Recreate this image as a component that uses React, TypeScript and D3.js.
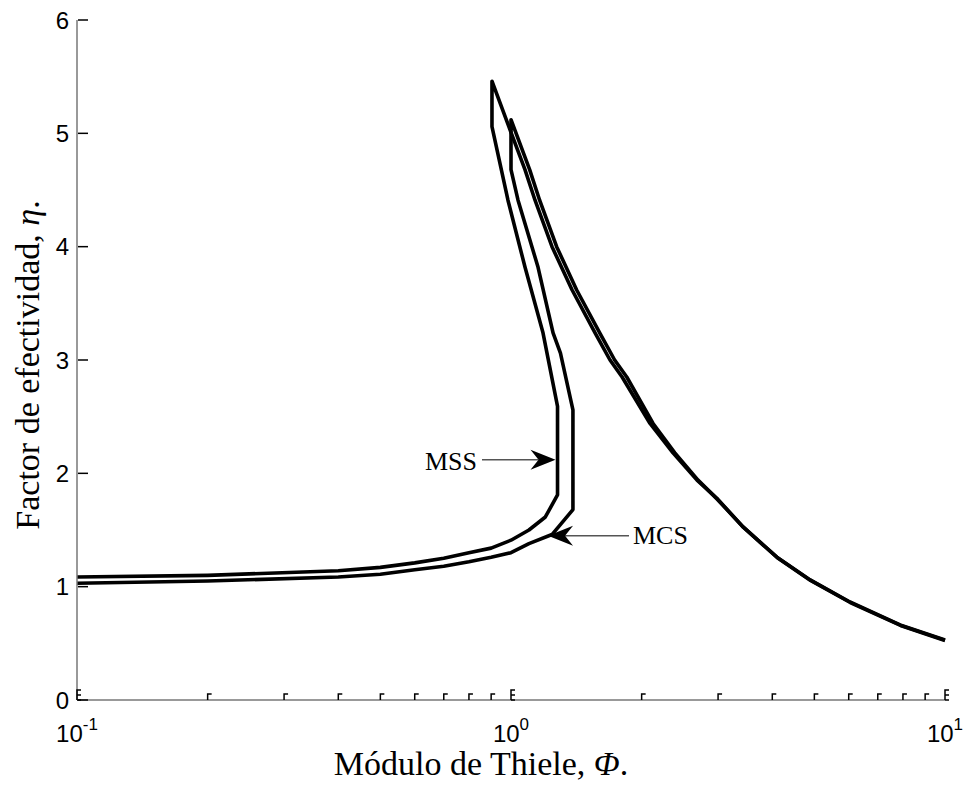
import { useEffect, useRef } from 'react';
import * as d3 from 'd3';

// Módulo de Thiele (Φ) vs factor de efectividad (η)
const mssPhi = [0.1, 0.2, 0.4, 0.5, 0.6, 0.7, 0.8, 0.9, 1.0, 1.1, 1.2, 1.28, 1.28, 1.185, 1.077, 0.984, 0.904, 0.904, 0.995, 1.077, 1.136, 1.243, 1.382, 1.562, 1.691, 1.803, 2.091, 2.362, 2.683, 2.98, 3.42, 4.1, 4.89, 6.04, 7.88, 10];
const mssEta = [1.085, 1.1, 1.14, 1.17, 1.21, 1.25, 1.3, 1.34, 1.41, 1.5, 1.615, 1.81, 2.59, 3.24, 3.82, 4.41, 5.06, 5.46, 5.03, 4.68, 4.41, 4.0, 3.62, 3.24, 3.0, 2.85, 2.44, 2.18, 1.94, 1.78, 1.53, 1.26, 1.06, 0.865, 0.662, 0.53];

const mcsPhi = [0.1, 0.2, 0.4, 0.5, 0.6, 0.7, 0.8, 0.9, 1.0, 1.1, 1.243, 1.389, 1.389, 1.3, 1.25, 1.154, 1.038, 1.0, 1.0, 1.104, 1.164, 1.274, 1.416, 1.601, 1.733, 1.848, 2.125, 2.385, 2.697, 2.99, 3.43, 4.11, 4.9, 6.05, 7.9, 10];
const mcsEta = [1.03, 1.05, 1.085, 1.11, 1.15, 1.18, 1.22, 1.26, 1.3, 1.38, 1.46, 1.68, 2.56, 3.06, 3.24, 3.82, 4.41, 4.68, 5.12, 4.68, 4.41, 4.0, 3.62, 3.24, 3.0, 2.85, 2.44, 2.18, 1.94, 1.77, 1.525, 1.255, 1.055, 0.86, 0.658, 0.525];

const yTicks = [0, 1, 2, 3, 4, 5, 6];
const xMajor = [0.1, 1, 10];
const xMinor = [0.2, 0.3, 0.4, 0.5, 0.6, 0.7, 0.8, 0.9, 2, 3, 4, 5, 6, 7, 8, 9];

const W = 966;
const H = 786;

const App = () => {
  const svgRef = useRef(null);

  useEffect(() => {
    const svg = d3.select(svgRef.current);
    svg.selectAll('*').remove();

    const x = d3.scaleLog().domain([0.1, 10]).range([77, 945]);
    const y = d3.scaleLinear().domain([0, 6]).range([700, 20]);

    const line = d3.line<[number, number]>()
      .x(d => x(d[0]))
      .y(d => y(d[1]));

    // curves
    const series = [
      mssPhi.map((p, i) => [p, mssEta[i]] as [number, number]),
      mcsPhi.map((p, i) => [p, mcsEta[i]] as [number, number])
    ];
    svg.selectAll('path.curve')
      .data(series)
      .join('path')
      .attr('class', 'curve')
      .attr('d', d => line(d))
      .attr('fill', 'none')
      .attr('stroke', '#000')
      .attr('stroke-width', 3.6)
      .attr('stroke-linejoin', 'round');

    // axes lines
    svg.append('line')
      .attr('x1', 77).attr('x2', 77).attr('y1', 20).attr('y2', 700)
      .attr('stroke', '#777').attr('stroke-width', 1.5);
    svg.append('line')
      .attr('x1', 77).attr('x2', 945).attr('y1', 700).attr('y2', 700)
      .attr('stroke', '#777').attr('stroke-width', 1.5);

    // y ticks
    svg.selectAll('line.yt')
      .data(yTicks)
      .join('line')
      .attr('class', 'yt')
      .attr('x1', 78).attr('x2', 88)
      .attr('y1', d => y(d)).attr('y2', d => y(d))
      .attr('stroke', '#000').attr('stroke-width', 1.5);

    svg.selectAll('text.yl')
      .data(yTicks)
      .join('text')
      .attr('class', 'yl')
      .attr('x', 69)
      .attr('y', d => y(d))
      .attr('dy', '0.36em')
      .attr('text-anchor', 'end')
      .style('font-family', '"Liberation Sans", Arial, sans-serif')
      .style('font-size', '24px')
      .text(d => d);

    // x ticks (minor + major)
    svg.selectAll('path.xm')
      .data(xMinor)
      .join('path')
      .attr('class', 'xm')
      .attr('d', d => `M${x(d)},700V694H${x(d) + 4}`)
      .attr('fill', 'none')
      .attr('stroke', '#000').attr('stroke-width', 1.5);

    svg.selectAll('path.xM')
      .data(xMajor)
      .join('path')
      .attr('class', 'xM')
      .attr('d', d => `M${x(d)},700V690H${x(d) + 4}M${x(d)},695H${x(d) + 4}M${x(d)},700H${x(d) + 4}`)
      .attr('fill', 'none')
      .attr('stroke', '#000').attr('stroke-width', 1.5);

    const xl = svg.selectAll('text.xl')
      .data(xMajor)
      .join('text')
      .attr('class', 'xl')
      .attr('x', d => x(d))
      .attr('y', 742)
      .attr('text-anchor', 'middle')
      .style('font-family', '"Liberation Sans", Arial, sans-serif')
      .style('font-size', '24px');
    xl.append('tspan').text('10');
    xl.append('tspan')
      .attr('dy', -12)
      .style('font-size', '17px')
      .text(d => String(Math.round(Math.log10(d))));

    // axis labels
    const serif = '"Liberation Serif", "Times New Roman", serif';
    const xt = svg.append('text')
      .attr('x', 481).attr('y', 775)
      .attr('text-anchor', 'middle')
      .style('font-family', serif)
      .style('font-size', '34px');
    xt.append('tspan').text('Módulo de Thiele, ');
    xt.append('tspan').style('font-style', 'italic').text('Φ');
    xt.append('tspan').text('.');

    const yt = svg.append('text')
      .attr('transform', 'translate(39,365) rotate(-90)')
      .attr('text-anchor', 'middle')
      .style('font-family', serif)
      .style('font-size', '34px');
    yt.append('tspan').text('Factor de efectividad, ');
    yt.append('tspan').style('font-style', 'italic').text('η');
    yt.append('tspan').text('.');

    // annotations
    const arrow = (tx: number, ty: number, dir: number, tailX: number) => {
      const L = 25, Wd = 10, notch = 8;
      svg.append('line')
        .attr('x1', tailX).attr('x2', tx - dir * (L - notch))
        .attr('y1', ty).attr('y2', ty)
        .attr('stroke', '#555').attr('stroke-width', 1.5);
      svg.append('path')
        .attr('d', `M${tx},${ty}L${tx - dir * L},${ty - Wd}L${tx - dir * (L - notch)},${ty}L${tx - dir * L},${ty + Wd}Z`)
        .attr('fill', '#000');
    };

    const mssTip = [x(1.28) - 2, y(2.12)];
    arrow(mssTip[0], mssTip[1], 1, 482);
    svg.append('text')
      .attr('x', 425).attr('y', mssTip[1] + 10)
      .style('font-family', serif).style('font-size', '26px')
      .text('MSS');

    const mcsTip = [x(1.217), y(1.45)];
    arrow(mcsTip[0], mcsTip[1], -1, 629);
    svg.append('text')
      .attr('x', 633).attr('y', mcsTip[1] + 8)
      .style('font-family', serif).style('font-size', '26px')
      .text('MCS');
  }, []);

  return (
    <div style={{ position: 'absolute', left: 0, top: 0, width: W, height: H, background: '#fff' }}>
      <svg ref={svgRef} width={W} height={H} />
    </div>
  );
};

export default App;
